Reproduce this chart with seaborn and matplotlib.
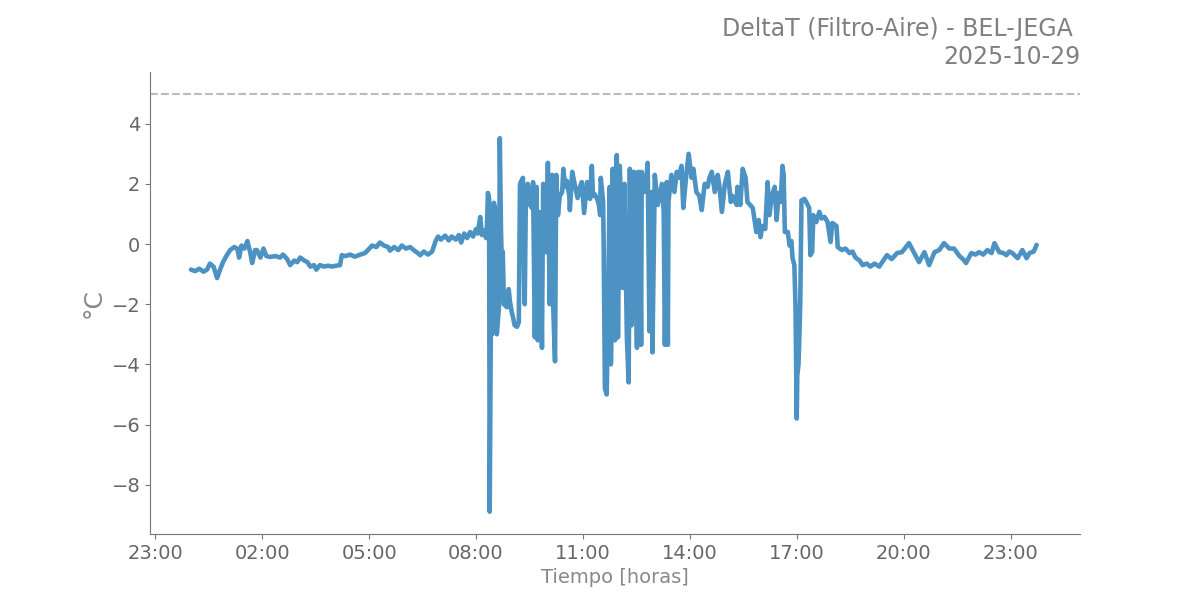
import numpy as np
import pandas as pd
import matplotlib
matplotlib.use("Agg")
import matplotlib.pyplot as plt
import matplotlib.dates as mdates
import seaborn as sns

# minutes after 2025-10-29 00:00
minutes = [
    0, 7, 14, 21, 27, 32, 38, 44, 49, 54, 61, 66, 73, 78, 81, 85, 90, 95, 100, 103,
    108, 111, 117, 122, 127, 133, 142, 150, 155, 162, 167, 174, 179, 184, 191, 196, 201, 207, 211, 217,
    224, 231, 238, 244, 251, 254, 260, 268, 276, 285, 293, 298, 305, 312, 318, 325, 332, 335, 342, 349,
    355, 362, 369, 375, 382, 386, 392, 399, 406, 412, 416, 421, 428, 434, 439, 446, 451, 455, 460, 465,
    470, 475, 480, 483, 487, 490, 493, 497, 498, 500, 502, 503, 505, 507, 510, 512, 513, 515, 519, 520,
    522, 523, 525, 527, 532, 535, 537, 540, 543, 545, 549, 552, 554, 555, 559, 561, 562, 564, 567, 571,
    574, 576, 579, 582, 584, 588, 591, 593, 598, 601, 604, 608, 610, 613, 615, 618, 621, 625, 627, 630,
    633, 637, 638, 642, 647, 651, 655, 658, 662, 667, 668, 672, 675, 677, 680, 684, 687, 689, 690, 694,
    695, 697, 700, 702, 705, 707, 709, 710, 714, 717, 719, 722, 725, 727, 730, 734, 737, 739, 742, 746,
    751, 753, 756, 758, 759, 763, 766, 769, 772, 776, 777, 781, 786, 793, 796, 798, 801, 803, 804, 809,
    814, 818, 821, 826, 829, 834, 838, 843, 846, 851, 856, 860, 865, 870, 873, 877, 882, 887, 890, 894,
    899, 904, 909, 912, 919, 920, 925, 929, 934, 937, 946, 952, 956, 959, 962, 967, 971, 974, 978, 983,
    986, 990, 993, 996, 998, 1000, 1005, 1008, 1011, 1013, 1016, 1018, 1020, 1021, 1023, 1025, 1026, 1028, 1033, 1036,
    1041, 1043, 1046, 1048, 1053, 1058, 1062, 1067, 1072, 1077, 1080, 1087, 1089, 1096, 1102, 1109, 1114, 1119, 1126, 1131,
    1138, 1144, 1151, 1159, 1164, 1172, 1180, 1189, 1197, 1202, 1209, 1218, 1226, 1235, 1243, 1252, 1260, 1268, 1277, 1285,
    1294, 1300, 1305, 1314, 1321, 1327, 1334, 1341, 1348, 1353, 1361, 1368, 1373, 1378, 1383, 1392, 1400, 1407, 1412, 1419,
    1424,
]

delta_t = [
    -0.85, -0.9, -0.82, -0.92, -0.85, -0.65, -0.75, -1.13, -0.85, -0.6, -0.35, -0.2, -0.1, -0.15, -0.45, -0.05, -0.15, 0.1, -0.3, -0.63,
    -0.2, -0.2, -0.45, -0.15, -0.4, -0.43, -0.4, -0.45, -0.35, -0.5, -0.7, -0.55, -0.6, -0.45, -0.55, -0.6, -0.75, -0.7, -0.85, -0.7,
    -0.75, -0.72, -0.75, -0.72, -0.7, -0.37, -0.4, -0.35, -0.42, -0.35, -0.3, -0.2, -0.05, -0.1, 0.05, -0.05, -0.1, -0.22, -0.1, -0.2,
    -0.05, -0.15, -0.1, -0.2, -0.3, -0.37, -0.25, -0.35, -0.25, 0.1, 0.25, 0.15, 0.28, 0.12, 0.25, 0.15, 0.3, 0.05, 0.35, 0.2,
    0.4, 0.25, 0.5, 0.35, 0.9, 0.3, 0.45, 0.2, 0.35, 1.7, 1.5, -8.9, -2.5, -3.0, 1.37, 1.2, -0.8, -3.0, -2.0, 3.52,
    0.5, -0.37, -0.25, -2.0, -2.1, -1.5, -1.9, -2.25, -2.5, -2.7, -2.75, -2.6, 1.96, 2.05, 2.2, -1.26, -2.0, 1.73, 2.0, 1.3,
    1.2, 2.06, -3.1, 1.9, -3.2, 1.06, -3.45, 2.0, -0.27, 2.7, -2.0, 2.3, -2.1, -3.9, 2.3, 0.96, 1.6, 1.73, 2.5, 1.9,
    2.1, 1.6, 1.13, 2.4, 1.9, 1.53, 1.9, 2.06, 1.03, 2.06, 1.73, 1.5, 2.6, 1.6, 1.65, 1.5, 1.3, 0.96, 2.2, 1.4,
    -0.13, -4.8, -5.0, -2.7, 1.9, -4.0, -2.3, 2.5, -3.2, 2.96, -3.1, 2.6, 0.8, -1.46, 2.0, -3.1, -4.6, 2.5, -2.7, 2.4,
    -3.45, 2.4, 0.5, -3.35, 2.4, 1.73, 2.0, 2.7, -2.9, 1.73, -3.6, 2.3, 1.3, 2.0, 1.07, -3.35, 2.06, -3.35, 1.4, 2.3,
    1.73, 2.4, 2.2, 2.6, 1.2, 2.3, 3.0, 2.2, 2.5, 1.73, 1.6, 1.13, 2.0, 1.9, 2.2, 2.4, 1.73, 2.3, 1.9, 1.07,
    2.0, 2.4, 1.4, 1.6, 1.3, 1.9, 1.3, 2.5, 2.2, 1.4, 1.2, 0.4, 0.8, 0.23, 0.6, 0.5, 2.06, 0.96, 1.6, 1.9,
    0.8, 1.7, 1.4, 2.6, 2.3, 0.4, 0.4, -0.05, 0.1, -0.47, -0.7, -2.1, -5.8, -4.35, -4.0, -2.7, -1.9, 1.45, 1.5, 1.4,
    1.2, -0.37, -0.25, 0.96, 0.73, 1.07, 0.85, 0.9, 0.73, 0.07, 0.7, 0.6, -0.1, -0.2, -0.15, -0.3, -0.25, -0.45, -0.55, -0.7,
    -0.65, -0.75, -0.65, -0.75, -0.6, -0.37, -0.5, -0.3, -0.27, -0.15, 0.03, -0.3, -0.6, -0.27, -0.7, -0.27, -0.2, 0.03, -0.15, -0.15,
    -0.4, -0.5, -0.63, -0.3, -0.35, -0.27, -0.35, -0.2, -0.3, 0.03, -0.27, -0.3, -0.37, -0.25, -0.3, -0.47, -0.2, -0.47, -0.3, -0.25,
    -0.03,
]

title_text = "DeltaT (Filtro-Aire) - BEL-JEGA \n2025-10-29"
limit_value = 5

times = pd.Timestamp("2025-10-29") + pd.to_timedelta(minutes, unit="min")
df = pd.DataFrame({"Tiempo": times, "DeltaT": delta_t})

sns.set_style("ticks")
plt.rcParams["font.family"] = ["DejaVu Sans"]

fig = plt.figure(figsize=(12, 6), dpi=100)
ax = fig.add_axes([0.125, 0.11, 0.775, 0.77])

sns.lineplot(data=df, x="Tiempo", y="DeltaT", ax=ax, color="#1f77b4", alpha=0.8,
             linewidth=3.3, estimator=None)
ax.axhline(limit_value, color="#bbbbbb", linestyle="--", linewidth=1.5)

ax.set_ylim(-9.64, 5.72)
xmin = pd.Timestamp("2025-10-28 22:51")
xmax = pd.Timestamp("2025-10-30 00:57")
ax.set_xlim(xmin, xmax)

ax.xaxis.set_major_locator(mdates.HourLocator(byhour=[2, 5, 8, 11, 14, 17, 20, 23]))
ax.xaxis.set_major_formatter(mdates.DateFormatter("%H:%M"))

gray = "#777777"
for side in ["top", "right"]:
    ax.spines[side].set_visible(False)
for side in ["left", "bottom"]:
    ax.spines[side].set_color(gray)
ax.tick_params(axis="both", colors=gray, labelsize=14, labelcolor="#666666")

ax.set_xlabel("Tiempo [horas]", fontsize=14, color="#888888")
ax.set_ylabel("°C", fontsize=18, color="#888888")
ax.set_title(title_text, loc="right", fontsize=17, color="#808080")

fig.savefig("out.png", dpi=100)
